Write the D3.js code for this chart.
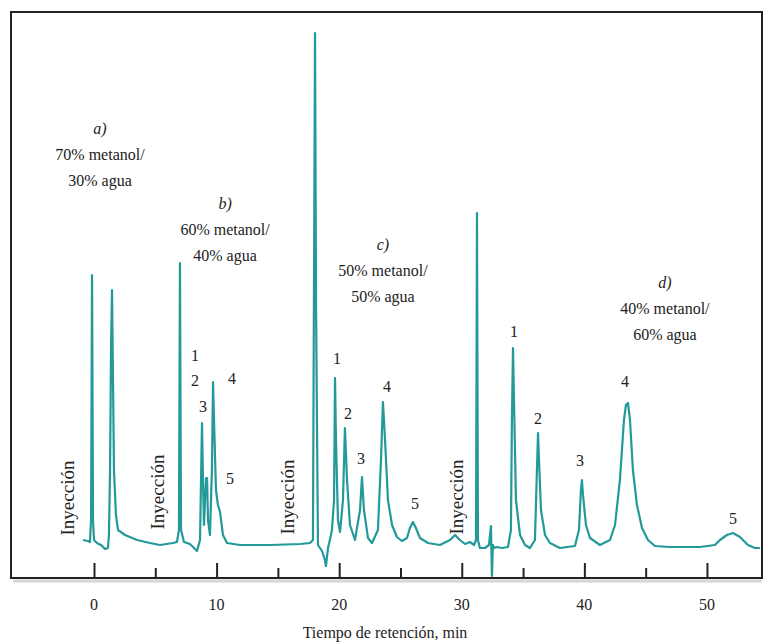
<!DOCTYPE html>
<html><head><meta charset="utf-8">
<script src="https://cdn.jsdelivr.net/npm/d3@7"></script>
<style>body{margin:0;background:#fff}svg{display:block}text{font-family:"Liberation Serif","DejaVu Serif",serif;fill:#222}</style>
</head><body>
<script>
// Trace: time (min), detector signal (arbitrary units)
const traceTime = [-0.90,-0.49,-0.33,-0.24,-0.16,-0.08,0,0.24,0.57,0.90,1.14,1.22,1.31,1.39,1.47,1.55,1.63,1.79,1.96,2.53,3.51,4.57,5.38,6.44,6.77,6.93,7.01,7.10,7.34,7.83,8.40,8.65,8.73,8.81,8.89,8.97,9.14,9.22,9.30,9.46,9.62,9.71,9.79,9.95,10.11,10.28,10.52,10.85,11.91,14.36,16.80,17.62,17.86,17.94,18.03,18.11,18.27,18.60,18.84,18.92,19.09,19.33,19.41,19.58,19.66,19.74,19.90,20.07,20.31,20.47,20.64,20.88,21.29,21.70,21.86,22.02,22.35,22.68,23.16,23.41,23.57,23.74,23.98,24.31,24.71,25.12,25.53,25.77,26.02,26.26,26.59,27.24,28.22,29.04,29.45,29.85,30.26,30.67,31.00,31.16,31.24,31.32,31.48,31.89,32.22,32.30,32.38,32.46,32.54,32.63,32.87,33.28,33.77,34.01,34.09,34.18,34.26,34.42,34.75,35.16,35.56,35.97,36.13,36.22,36.30,36.46,36.79,37.19,38.01,39.23,39.56,39.72,39.80,39.89,40.13,40.46,41.27,42.09,42.50,42.90,43.23,43.39,43.56,43.72,43.96,44.29,44.70,45.19,45.76,46.98,49.43,50.65,51.06,51.63,52.12,52.69,53.34,53.92,54.32];
const traceSignal = [38,37,36,58,303,58,38,35,33,29,30,43,108,228,288,198,108,63,48,43,38,35,33,35,36,48,315,48,36,34,27,38,98,155,98,53,100,100,58,43,108,196,158,88,73,66,43,35,33,33,34,35,38,278,545,278,33,27,18,12,30,43,48,78,200,138,58,46,78,150,98,53,38,68,101,68,40,35,48,118,176,138,78,53,41,37,40,50,56,50,40,35,33,38,43,38,34,36,33,38,365,38,30,30,33,43,52,2,33,30,31,30,31,48,158,230,178,78,43,33,30,38,108,145,118,68,43,35,30,32,48,88,98,83,53,40,33,38,53,98,158,173,175,158,108,73,50,38,32,31,31,33,38,43,45,41,33,30,30];

const majorTicks = [0,10,20,30,40,50];
const minorTicks = [5,15,25,35,45];
const xTitle = "Tiempo de retención, min";

// Run conditions (label text and anchor in data units)
const runTitles = [
  {t:0.49, v:448, lines:["a)","70% metanol/","30% agua"]},
  {t:10.69, v:373, lines:["b)","60% metanol/","40% agua"]},
  {t:23.57, v:332, lines:["c)","50% metanol/","50% agua"]},
  {t:46.57, v:294, lines:["d)","40% metanol/","60% agua"]}
];
const injections = [
  {t:-1.96, v:80},{t:5.38, v:86},{t:15.99, v:81},{t:29.77, v:81}
];
const peakLabels = [
  {t:8.24,v:221,s:"1"},{t:8.24,v:196,s:"2"},{t:8.89,v:170,s:"3"},{t:11.26,v:198,s:"4"},{t:11.09,v:98,s:"5"},
  {t:19.82,v:218,s:"1"},{t:20.72,v:163,s:"2"},{t:21.78,v:118,s:"3"},{t:23.90,v:190,s:"4"},{t:26.18,v:73,s:"5"},
  {t:34.26,v:245,s:"1"},{t:36.22,v:158,s:"2"},{t:39.64,v:116,s:"3"},{t:43.31,v:195,s:"4"},{t:52.12,v:58,s:"5"}
];

const W = 767, H = 644;
const L = 11, R = 762, T = 12, B = 578;
const svg = d3.select("body").append("svg").attr("width", W).attr("height", H);

const x = d3.scaleLinear().domain([-6.77, 54.49]).range([L, R]);
const y = d3.scaleLinear().domain([0, 566]).range([B, T]);

// axis shadow
svg.append("line").attr("x1", L+2).attr("x2", R).attr("y1", B+3).attr("y2", B+3)
  .attr("stroke", "#bbb").attr("stroke-width", 3).attr("opacity", 0.6);

// frame
svg.append("rect").attr("x", L).attr("y", T).attr("width", R-L).attr("height", B-T)
  .attr("fill", "none").attr("stroke", "#222").attr("stroke-width", 2);

// axis with inward ticks
const gx = svg.append("g").attr("transform", `translate(0,${B})`);
gx.call(d3.axisBottom(x).tickValues(majorTicks).tickSize(-15).tickPadding(0).tickFormat(""))
  .call(g => g.select(".domain").remove())
  .call(g => g.selectAll("line").attr("stroke", "#222").attr("stroke-width", 2));
const gm = svg.append("g").attr("transform", `translate(0,${B})`);
gm.call(d3.axisBottom(x).tickValues(minorTicks).tickSize(-10).tickFormat(""))
  .call(g => g.select(".domain").remove())
  .call(g => g.selectAll("line").attr("stroke", "#222").attr("stroke-width", 2));

svg.append("g").selectAll("text").data(majorTicks).join("text")
  .attr("x", d => x(d)).attr("y", 610).attr("text-anchor", "middle")
  .attr("font-size", 16).text(d => d);

svg.append("text").attr("x", 385).attr("y", 638).attr("text-anchor", "middle")
  .attr("font-size", 16).text(xTitle);

// trace
const pts = traceTime.map((t, i) => [t, traceSignal[i]]);
svg.append("path").datum(pts)
  .attr("d", d3.line().x(d => x(d[0])).y(d => y(d[1])))
  .attr("fill", "none").attr("stroke", "#23999a").attr("stroke-width", 2.2)
  .attr("stroke-linejoin", "round");

// run titles
runTitles.forEach(r => {
  const g = svg.append("g");
  r.lines.forEach((s, i) => {
    g.append("text").attr("x", x(r.t)).attr("y", y(r.v) + i*26)
      .attr("text-anchor", "middle").attr("dominant-baseline", "middle")
      .attr("font-size", 16).attr("font-style", i === 0 ? "italic" : "normal")
      .text(s);
  });
});

// injection labels
svg.append("g").selectAll("text").data(injections).join("text")
  .attr("transform", d => `translate(${x(d.t)},${y(d.v)}) rotate(-90)`)
  .attr("text-anchor", "middle").attr("dominant-baseline", "middle")
  .attr("font-size", 19).text("Inyección");

// peak numbers
svg.append("g").selectAll("text").data(peakLabels).join("text")
  .attr("x", d => x(d.t)).attr("y", d => y(d.v))
  .attr("text-anchor", "middle").attr("dominant-baseline", "middle")
  .attr("font-size", 16).text(d => d.s);
</script>
</body></html>
